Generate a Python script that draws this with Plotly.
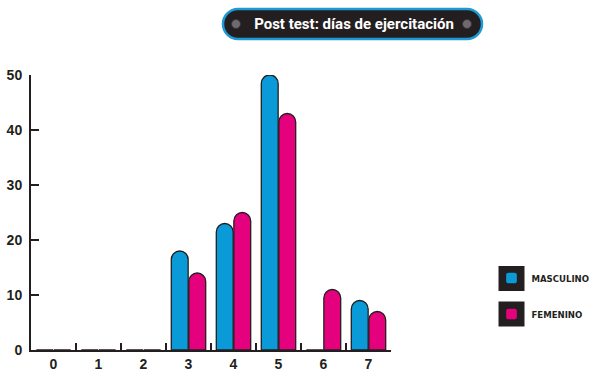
import plotly.graph_objects as go

# ---- data ----
categories = ["0", "1", "2", "3", "4", "5", "6", "7"]
masculino = [0, 0, 0, 18, 23, 50, 0, 9]
femenino = [0, 0, 0, 14, 25, 43, 11, 7]
series_names = ["MASCULINO", "FEMENINO"]
title_text = "Post test: días de ejercitación"
y_ticks = [0, 10, 20, 30, 40, 50]

W, H = 592, 379
L, R, T, B = 31, 201, 75, 29
PW, PH = W - L - R, H - T - B

BLUE = "#0A9AD8"
PINK = "#E5007D"
DARK = "#231F20"


def px(X):
    return (X - L) / PW


def py(Y):
    return (H - B - Y) / PH


def pill_path(x0, y0, x1, y1):
    r = (y1 - y0) / 2
    k = 0.5523 * r
    d = f"M{px(x0 + r)},{py(y0)} L{px(x1 - r)},{py(y0)} "
    d += f"C{px(x1 - r + k)},{py(y0)} {px(x1)},{py(y0 + r - k)} {px(x1)},{py(y0 + r)} "
    d += f"C{px(x1)},{py(y1 - r + k)} {px(x1 - r + k)},{py(y1)} {px(x1 - r)},{py(y1)} "
    d += f"L{px(x0 + r)},{py(y1)} "
    d += f"C{px(x0 + r - k)},{py(y1)} {px(x0)},{py(y1 - r + k)} {px(x0)},{py(y0 + r)} "
    d += f"C{px(x0)},{py(y0 + r - k)} {px(x0 + r - k)},{py(y0)} {px(x0 + r)},{py(y0)} Z"
    return d


fig = go.Figure()
for name, vals, col in [(series_names[0], masculino, BLUE), (series_names[1], femenino, PINK)]:
    fig.add_trace(go.Bar(
        x=categories, y=vals, name=name, legendgroup=name,
        marker=dict(color=col, line=dict(color=DARK, width=1.3), cornerradius="50%"),
        cliponaxis=False,
    ))

shapes = []
# title pill
shapes.append(dict(type="path", xref="paper", yref="paper", path=pill_path(223, 9, 482, 39),
                   fillcolor=DARK, line=dict(color="#1E9AD3", width=2.5), layer="above"))
for cx in (236, 467):
    shapes.append(dict(type="circle", xref="paper", yref="paper",
                       x0=px(cx - 4.5), x1=px(cx + 4.5), y0=py(24 + 4.5), y1=py(24 - 4.5),
                       fillcolor="#6E6A70", line=dict(color="#3A3638", width=1), layer="above"))
# legend backing squares
for cy in (278.5, 314):
    shapes.append(dict(type="rect", xref="paper", yref="paper",
                       x0=px(498.5), x1=px(524.5), y0=py(cy + 12.5), y1=py(cy - 12.5),
                       fillcolor=DARK, line=dict(width=0), layer="above"))

fig.update_layout(
    template="none",
    width=W, height=H,
    margin=dict(l=L, r=R, t=T, b=B, pad=0, autoexpand=False),
    paper_bgcolor="white", plot_bgcolor="white",
    barmode="group", bargap=0.22, bargroupgap=0.04,
    showlegend=True,
    legend=dict(x=px(491.5), xanchor="left", y=py(263.5), yanchor="top",
                bgcolor="rgba(0,0,0,0)", tracegroupgap=17, borderwidth=0,
                font=dict(family="DejaVu Sans Condensed", size=9.5,
                          color=DARK, weight="bold")),
    title=dict(text=title_text, xref="container", yref="container",
               x=354 / W, xanchor="center", y=1 - 24 / H, yanchor="middle",
               font=dict(family="Roboto", size=15, color="white", weight="bold")),
    shapes=shapes,
    font=dict(family="Liberation Sans", color=DARK),
)
fig.update_xaxes(
    type="category", range=[-0.5, 7.5], showline=True, linecolor=DARK, linewidth=2,
    ticks="inside", tickson="boundaries", ticklen=7, tickwidth=2, tickcolor=DARK,
    showgrid=False, zeroline=False, automargin=False,
    tickfont=dict(family="Liberation Sans", size=14, color=DARK, weight="bold"),
)
fig.update_yaxes(
    range=[0, 50], tickvals=y_ticks, showline=True, linecolor=DARK, linewidth=2,
    ticks="inside", ticklen=8, tickwidth=2, tickcolor=DARK,
    showgrid=False, zeroline=False, ticklabelstandoff=4, automargin=False,
    tickfont=dict(family="Liberation Sans", size=14, color=DARK, weight="bold"),
)

fig.write_html("out.html", config={"displayModeBar": False},
               post_script="document.body.style.margin='0';")
